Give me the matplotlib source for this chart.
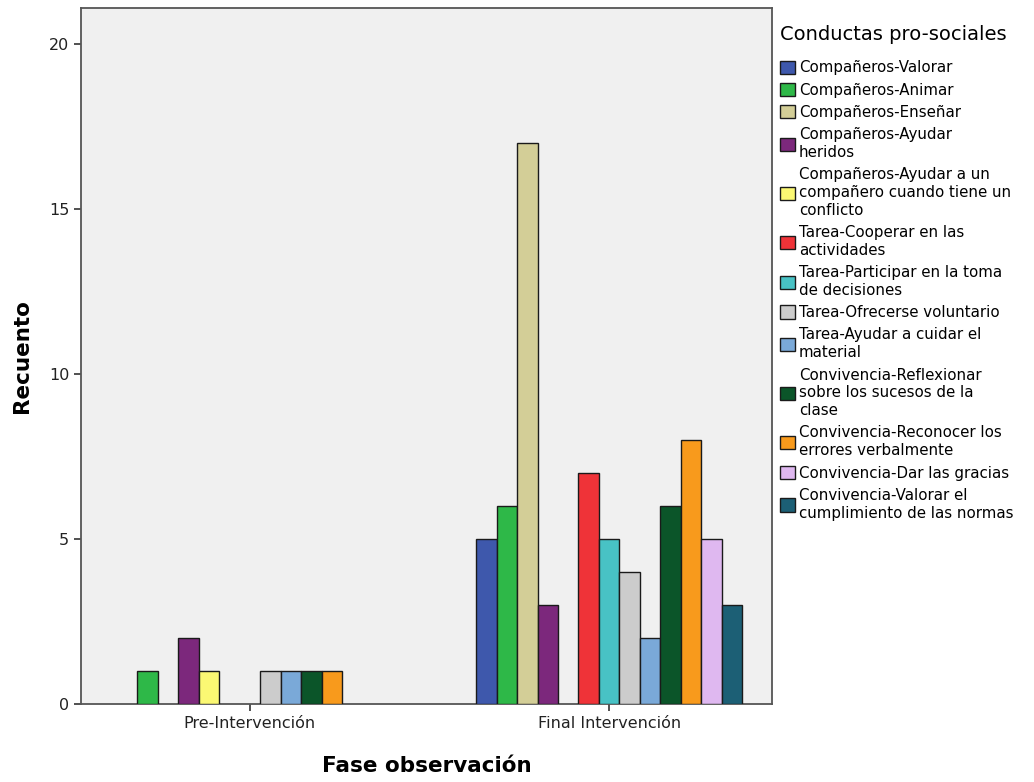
import numpy as np
import matplotlib.pyplot as plt
from matplotlib.patches import Patch

fases = ['Pre-Intervención', 'Final Intervención']
conductas = [
    'Compañeros-Valorar',
    'Compañeros-Animar',
    'Compañeros-Enseñar',
    'Compañeros-Ayudar\nheridos',
    'Compañeros-Ayudar a un\ncompañero cuando tiene un\nconflicto',
    'Tarea-Cooperar en las\nactividades',
    'Tarea-Participar en la toma\nde decisiones',
    'Tarea-Ofrecerse voluntario',
    'Tarea-Ayudar a cuidar el\nmaterial',
    'Convivencia-Reflexionar\nsobre los sucesos de la\nclase',
    'Convivencia-Reconocer los\nerrores verbalmente',
    'Convivencia-Dar las gracias',
    'Convivencia-Valorar el\ncumplimiento de las normas',
]
pre = [0, 1, 0, 2, 1, 0, 0, 1, 1, 1, 1, 0, 0]
final = [5, 6, 17, 3, 0, 7, 5, 4, 2, 6, 8, 5, 3]
colores = ['#3e58ac', '#2eb848', '#d3ce97', '#7c287c', '#fbf873', '#ef3338',
           '#48c2c5', '#cccccc', '#7aa9d8', '#0b5529', '#f89a1c', '#dfb8f0',
           '#1c5f75']

fig = plt.figure(figsize=(10.34, 7.82), dpi=100)
ax = fig.add_axes([0.0783, 0.0997, 0.6683, 0.8901])
ax.set_facecolor('#f0f0f0')

w = 0.057
x = np.arange(len(fases))
n = len(conductas)
for i in range(n):
    vals = np.array([pre[i], final[i]], dtype=float)
    vals[vals == 0] = np.nan
    ax.bar(x + (i - (n - 1) / 2) * w, vals, w, color=colores[i],
           edgecolor='#1a1a1a', linewidth=1.0, zorder=3)

ax.set_xlim(-0.47, 1.453)
ax.set_ylim(0, 21.1)
ax.set_yticks([0, 5, 10, 15, 20])
ax.set_xticks(x)
ax.set_xticklabels(fases)
ax.tick_params(axis='both', labelsize=11.5, length=5, width=1.2, color='#333333',
               labelcolor='#222222')
for s in ax.spines.values():
    s.set_color('#555555')
    s.set_linewidth(1.3)

ax.set_ylabel('Recuento', fontsize=15.5, fontweight='bold', labelpad=12)
ax.set_xlabel('Fase observación', fontsize=15.5, fontweight='bold', labelpad=18)

handles = [Patch(facecolor=c, edgecolor='#1a1a1a', linewidth=1.0) for c in colores]
leg = fig.legend(handles, conductas, loc='upper left',
                 bbox_to_anchor=(0.7485, 0.976), frameon=False, fontsize=10.8,
                 handlelength=1.0, handleheight=1.0, handletextpad=0.25,
                 labelspacing=0.48, borderaxespad=0,
                 title='Conductas pro-sociales', title_fontsize=14)
leg._legend_box.align = 'left'
leg._legend_box.sep = 12
for t in leg.get_texts():
    t.set_linespacing(1.24)

fig.savefig('out.png', dpi=100)
